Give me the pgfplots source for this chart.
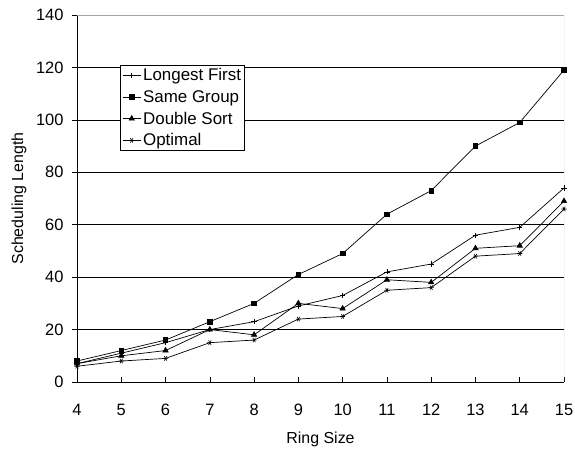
\documentclass[border=0pt]{standalone}
\usepackage{pgfplots}
\pgfplotsset{compat=1.18}
\usepackage{fontspec}
\setmainfont{Liberation Sans}
\begin{document}
\begin{tikzpicture}[x=1bp,y=1bp]
\path[use as bounding box] (-77,-70) rectangle (498,382);
\begin{axis}[
  at={(0,0)}, anchor=origin,
  scale only axis, width=487bp, height=367bp,
  xmin=4, xmax=15, ymin=0, ymax=140,
  xtick={4,...,15}, ytick={0,20,...,140},
  /pgf/number format/assume math mode=true,
  ticklabel style={font=\fontsize{16.5}{18}\selectfont},
  label style={font=\fontsize{16}{18}\selectfont},
  xlabel={Ring Size}, ylabel={Scheduling Length},
  xlabel style={at={(axis description cs:0.5,0)}, anchor=north, yshift=-46bp},
  ylabel style={at={(axis description cs:0,0.5)}, anchor=south, yshift=47bp},
  x tick label style={anchor=north, yshift=-19bp},
  y tick label style={anchor=east, xshift=-5bp},
  xtick pos=bottom, ytick pos=left,
  xtick align=inside, ytick align=outside,
  major tick length=5bp,
  tick style={black, line width=0.6bp},
  ymajorgrids, grid style={black, line width=0.6bp},
  axis line style={line width=0.9bp},
  separate axis lines,
  axis x line*=bottom, axis y line*=left,
  legend style={at={(axis cs:4.98,121)}, anchor=north west, draw=black, line width=0.8bp,
    font=\fontsize{17}{20}\selectfont, row sep=4bp, inner sep=1.5bp, fill=white},
  legend cell align=left,
  legend image code/.code={\draw[mark repeat=2, mark phase=2, #1] plot coordinates {(0cm,0cm)(0.32cm,0cm)(0.64cm,0cm)};},
  every axis plot/.append style={black, line width=0.7bp, mark size=2.6bp},
]
\draw[gray!70, line width=0.9bp] (axis cs:4,140) -- (axis cs:15,140) -- (axis cs:15,0);
\addplot[mark=+, mark options={line width=0.7bp}] coordinates {(4,7)(5,11)(6,15)(7,20)(8,23)(9,29)(10,33)(11,42)(12,45)(13,56)(14,59)(15,74)};
\addlegendentry{Longest First}
\addplot[mark=square*, mark size=2.3bp] coordinates {(4,8)(5,12)(6,16)(7,23)(8,30)(9,41)(10,49)(11,64)(12,73)(13,90)(14,99)(15,119)};
\addlegendentry{Same Group}
\addplot[mark=triangle*, mark size=3bp] coordinates {(4,7)(5,10)(6,12)(7,20)(8,18)(9,30)(10,28)(11,39)(12,38)(13,51)(14,52)(15,69)};
\addlegendentry{Double Sort}
\addplot[mark=asterisk, mark options={rotate=90, line width=0.6bp}] coordinates {(4,6)(5,8)(6,9)(7,15)(8,16)(9,24)(10,25)(11,35)(12,36)(13,48)(14,49)(15,66)};
\addlegendentry{Optimal}
\end{axis}
\end{tikzpicture}
\end{document}
